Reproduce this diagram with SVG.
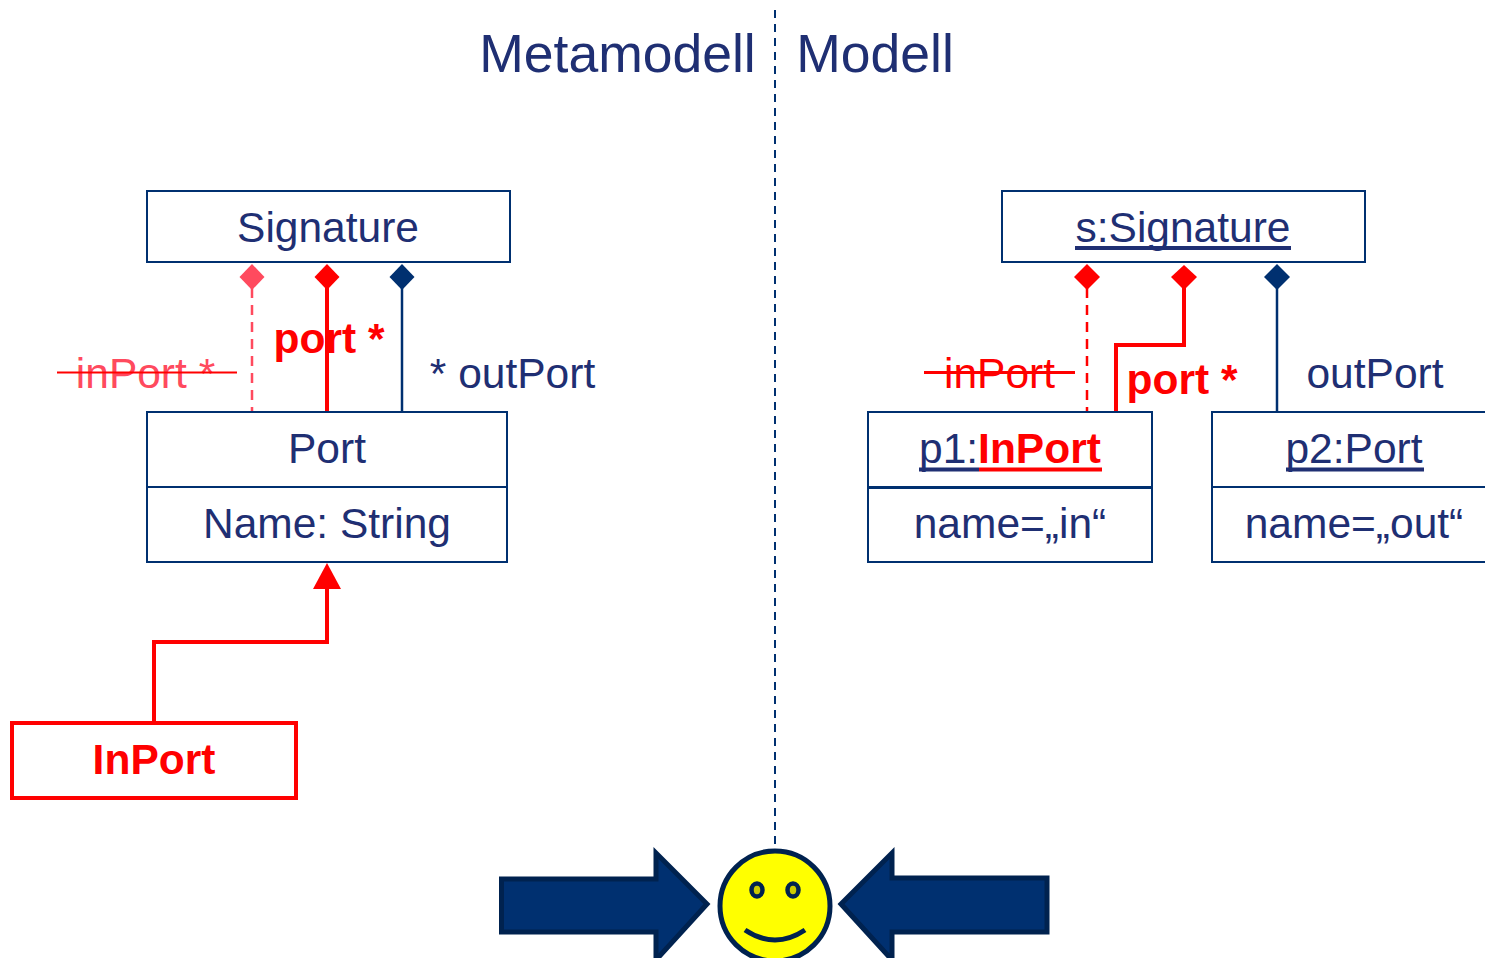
<svg xmlns="http://www.w3.org/2000/svg" width="1485" height="958" viewBox="0 0 1485 958">
<style>
text{font-family:"Liberation Sans",Arial,sans-serif;fill:#1f2f73;font-size:42.500px;text-anchor:middle}
.t{font-size:53.500px}
.start{text-anchor:start}
.r{fill:#ff0000;font-weight:bold}
.p{fill:#ff4a5e}
.box{fill:#fff;stroke:#003070;stroke-width:2}
.redbox{fill:#fff;stroke:#ff0000;stroke-width:4}
.u{stroke:#1f2f73;stroke-width:4;fill:none}
.n{stroke:#003070;stroke-width:2.500;fill:none}
.rl{stroke:#ff0000;stroke-width:4;fill:none}
.arrow{fill:#003070;stroke:#00224f;stroke-width:5}
</style>
<g id="connectors">
<path d="M775 10V845" fill="none" stroke="#003070" stroke-width="2" stroke-dasharray="8 6"/>
<path d="M252 288V412" fill="none" stroke="#ff4a5e" stroke-width="2.500" stroke-dasharray="10 7"/>
<path d="M252 264L264.500 277 252 290 239.500 277Z" fill="#ff4a5e"/>
<path class="rl" d="M327 288V412"/>
<path d="M327 264L339.500 277 327 290 314.500 277Z" fill="#ff0000"/>
<path class="n" d="M402 288V412"/>
<path d="M402 264L414.500 277 402 290 389.500 277Z" fill="#003070"/>
<path class="rl" d="M154 722V642H327V585"/>
<path d="M327 563L341 589H313Z" fill="#ff0000"/>
<path d="M1087 288V412" fill="none" stroke="#ff0000" stroke-width="2.500" stroke-dasharray="10 7"/>
<path d="M1087 264L1100 277 1087 290 1074 277Z" fill="#ff0000"/>
<path class="rl" d="M1116 412V345H1184V288"/>
<path d="M1184 265L1197 277 1184 290 1171 277Z" fill="#ff0000"/>
<path class="n" d="M1277 288V412"/>
<path d="M1277 264L1290 277 1277 290 1264 277Z" fill="#003070"/>
</g>
<g id="titles">
<text class="t" x="617.500" y="71.500">Metamodell</text>
<text class="t" x="875" y="71.500">Modell</text>
</g>
<g id="signature">
<rect class="box" x="147" y="191" width="363" height="71"/>
<text x="328" y="242">Signature</text>
</g>
<g id="port">
<rect class="box" x="147" y="412" width="360" height="150"/>
<path class="box" d="M147 487H507"/>
<text x="327" y="463">Port</text>
<text x="327" y="538">Name: String</text>
</g>
<g id="inport">
<rect class="redbox" x="12" y="723" width="284" height="75"/>
<text class="r" x="154" y="774">InPort</text>
</g>
<g id="meta-labels">
<text class="p" x="145.500" y="388">inPort *</text>
<path d="M57 372.500H237" stroke="#ff0000" stroke-width="2" fill="none"/>
<text class="r" x="329" y="352.500">port *</text>
<text x="512.500" y="388">* outPort</text>
</g>
<g id="s-signature">
<rect class="box" x="1002" y="191" width="363" height="71"/>
<text x="1183" y="242">s:Signature</text>
<path class="u" d="M1075 248H1291"/>
</g>
<g id="p1">
<rect class="box" x="868" y="412" width="284" height="150"/>
<path d="M868 487.500H1152" stroke="#003070" stroke-width="3" fill="none"/>
<text class="start" x="919" y="463">p1:<tspan class="r">InPort</tspan></text>
<path class="u" d="M919 469.500H979"/>
<path d="M979 469.500H1102" stroke="#ff0000" stroke-width="4" fill="none"/>
<text x="1010" y="538">name=„in“</text>
</g>
<g id="p2">
<path class="box" d="M1485 412H1212V562H1485"/>
<path class="box" d="M1212 487H1485"/>
<text x="1354" y="463">p2:Port</text>
<path class="u" d="M1286 469.500H1424"/>
<text x="1354" y="538">name=„out“</text>
</g>
<g id="model-labels">
<text x="999.500" y="388" style="fill:#ff0000">inPort</text>
<path d="M924 372.500H1075" stroke="#ff0000" stroke-width="3" fill="none"/>
<text class="r" x="1182" y="394">port *</text>
<text x="1375" y="388">outPort</text>
</g>
<g id="smiley">
<circle cx="775" cy="906" r="55" fill="#ffff00" stroke="#00224f" stroke-width="5"/>
<ellipse cx="757" cy="890" rx="5.500" ry="6.500" fill="#cccc00" stroke="#00224f" stroke-width="4.500"/>
<ellipse cx="793" cy="890" rx="5.500" ry="6.500" fill="#cccc00" stroke="#00224f" stroke-width="4.500"/>
<path d="M745 930Q775 950 805 930" fill="none" stroke="#00224f" stroke-width="5"/>
</g>
<g id="arrows">
<path class="arrow" d="M501.500 879H656V853L707 904 656 960V932H501.500Z"/>
<path class="arrow" d="M1047 878H892V853L841 904 892 960V932H1047Z"/>
</g>
</svg>
